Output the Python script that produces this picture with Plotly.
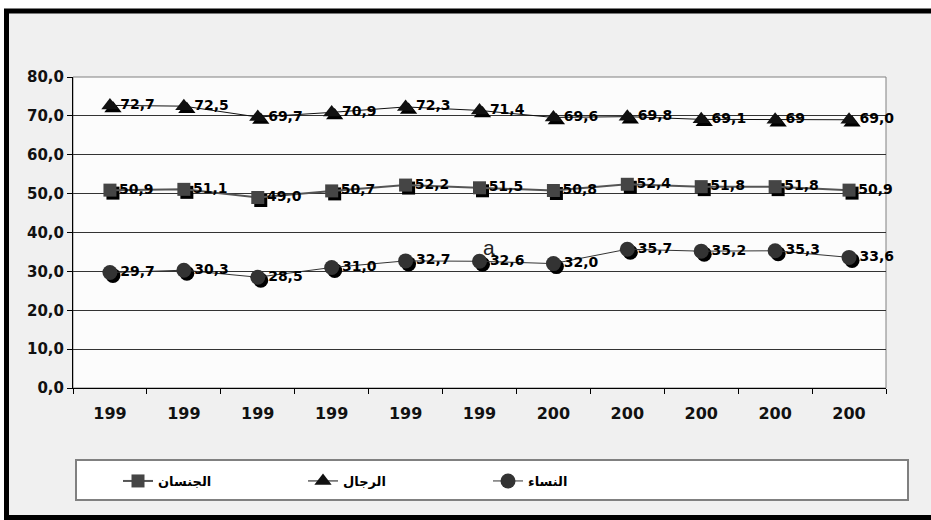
import plotly.graph_objects as go

# ---- data ----
years = ["1994", "1995", "1996", "1997", "1998", "1999", "2000", "2001", "2002", "2003", "2004"]
both_name = "الجنسان"
men_name = "الرجال"
women_name = "النساء"
both = [50.9, 51.1, 49.0, 50.7, 52.2, 51.5, 50.8, 52.4, 51.8, 51.8, 50.9]
men = [72.7, 72.5, 69.7, 70.9, 72.3, 71.4, 69.6, 69.8, 69.1, 69.0, 69.0]
women = [29.7, 30.3, 28.5, 31.0, 32.7, 32.6, 32.0, 35.7, 35.2, 35.3, 33.6]
men_labels = ["72,7", "72,5", "69,7", "70,9", "72,3", "71,4", "69,6", "69,8", "69,1", "69", "69,0"]
y_ticks = [0, 10, 20, 30, 40, 50, 60, 70, 80]
stray_text = "a"


def fmt(v):
    return f"{v:.1f}".replace(".", ",")


W, H = 931, 520
ML, MR, MT, MB = 73, 45, 77, 132
PW = W - ML - MR
PH = H - MT - MB


def xp(px):
    return (px - ML) / PW


def yp(py):
    return (H - MB - py) / PH


LBL_FONT = dict(family="DejaVu Sans", size=14, color="black", weight="bold")

series = [
    (both_name, both, [fmt(v) for v in both], "square", 13, "#454545", "#555555", 2),
    (men_name, men, men_labels, "triangle-up", 15, "#111111", "#111111", 1),
    (women_name, women, [fmt(v) for v in women], "circle", 15, "#333333", "#333333", 1),
]

fig = go.Figure()

# shadow markers (drawn on the offset hidden axes, below)
for name, vals, labels, sym, size, mcol, lcol, lw in series:
    fig.add_trace(go.Scatter(
        x=years, y=vals, mode="markers", xaxis="x", yaxis="y",
        marker=dict(symbol=sym, size=size, color="black"),
        showlegend=False, hoverinfo="skip",
    ))

# visible series
for name, vals, labels, sym, size, mcol, lcol, lw in series:
    fig.add_trace(go.Scatter(
        x=years, y=vals, name=name, mode="lines+markers+text",
        xaxis="x2", yaxis="y2",
        line=dict(color=lcol, width=lw),
        marker=dict(symbol=sym, size=size, color=mcol),
        text=labels, textposition="middle right", textfont=LBL_FONT,
        cliponaxis=False,
    ))

shift_x = 3 * 11 / PW
shift_y = 3 * 80 / PH

shapes = [
    # outer frame
    dict(type="rect", xref="paper", yref="paper", x0=xp(6.5), x1=xp(980), y0=yp(517.5), y1=yp(11),
         line=dict(color="black", width=5), fillcolor="#f0f0f0", layer="below"),
    # plot area
    dict(type="rect", xref="paper", yref="paper", x0=0, x1=1, y0=0, y1=1,
         line=dict(color="#808080", width=1), fillcolor="#fcfcfc", layer="below"),
    # legend box
    dict(type="rect", xref="paper", yref="paper", x0=xp(76), x1=xp(908), y0=yp(500), y1=yp(460),
         line=dict(color="#808080", width=2), fillcolor="white", layer="below"),
    # clip of second line of category labels
    dict(type="rect", xref="paper", yref="paper", x0=xp(30), x1=xp(905), y0=yp(457), y1=yp(427),
         line=dict(width=0), fillcolor="#f0f0f0", layer="above"),
]

fig.update_layout(
    width=W, height=H, autosize=False,
    margin=dict(l=ML, r=MR, t=MT, b=MB, pad=0),
    paper_bgcolor="white", plot_bgcolor="#fcfcfc",
    separators=",.",
    showlegend=True,
    shapes=shapes,
    xaxis=dict(visible=False, type="category", categoryorder="array", categoryarray=years,
               range=[-0.5 - shift_x, 10.5 - shift_x]),
    yaxis=dict(visible=False, range=[0 + shift_y, 80 + shift_y]),
    xaxis2=dict(overlaying="x", anchor="y2", side="bottom", type="category",
                categoryorder="array", categoryarray=years,
                range=[-0.5, 10.5], tickson="boundaries",
                tickmode="array", tickvals=years,
                ticktext=[f"{y[:3]}<br>{y[3:]}" for y in years],
                ticks="outside", ticklen=5, tickcolor="black",
                showline=True, linecolor="black", linewidth=1,
                showgrid=False, zeroline=False,
                tickfont=dict(family="DejaVu Sans", size=16, color="#111111", weight="bold"),
                ticklabelstandoff=11),
    yaxis2=dict(overlaying="y", anchor="x2", side="left",
                range=[0, 80], tickmode="array", tickvals=y_ticks, tickformat=".1f",
                ticks="outside", ticklen=5, tickcolor="black",
                showline=True, linecolor="black", linewidth=1,
                showgrid=True, gridcolor="#333333", gridwidth=1, zeroline=False,
                tickfont=dict(family="DejaVu Sans", size=15, color="#111111", weight="bold")),
    legend=dict(orientation="h", x=xp(118), y=yp(481), xanchor="left", yanchor="middle",
                bgcolor="rgba(0,0,0,0)", borderwidth=0,
                entrywidth=140, entrywidthmode="pixels",
                font=dict(family="DejaVu Sans", size=13, color="black", weight="bold"),
                traceorder="normal"),
    annotations=[dict(text=stray_text, xref="paper", yref="paper", x=xp(489), y=yp(247),
                      showarrow=False, xanchor="center", yanchor="middle",
                      font=dict(family="Liberation Sans", size=21, color="#222222"))],
)

fig.write_html("out.html", config={"displayModeBar": False},
               post_script="document.body.style.margin='0';")
